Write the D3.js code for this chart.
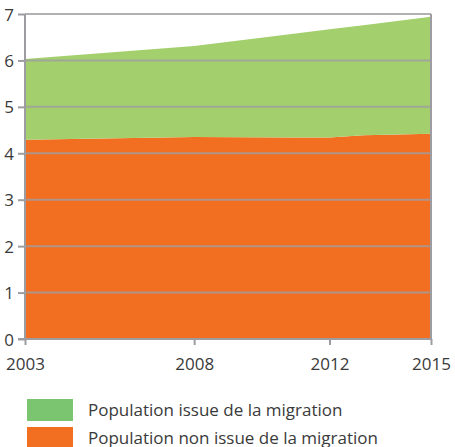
<!DOCTYPE html>
<html>
<head>
<meta charset="utf-8">
<script src="https://cdn.jsdelivr.net/npm/d3@7"></script>
<style>
body { margin: 0; background: #fff; }
text { font-family: "Open Sans", sans-serif; fill: #3a3a3a; }
</style>
</head>
<body>
<script>
// data (millions)
var years = [2003, 2008, 2011, 2012, 2013, 2015];
var nonMigration = [4.29, 4.35, 4.34, 4.34, 4.39, 4.42];
var migration = [1.74, 1.96, 2.24, 2.33, 2.37, 2.52];
var xTicks = [2003, 2008, 2012, 2015];
var yTicks = [0, 1, 2, 3, 4, 5, 6, 7];
var seriesNames = ["Population issue de la migration", "Population non issue de la migration"];

window.onload = function(){
    var w = 455, h = 447;
    var left = 25, right = 431, top = 14, bottom = 339;

    var svg = d3.select("body").append("svg")
        .attr("width", w)
        .attr("height", h);

    var x = d3.scaleLinear().domain([2003, 2015]).range([left, right]);
    var y = d3.scaleLinear().domain([0, 7]).range([bottom, top]);

    var rows = years.map(function(yr, i){
        return { year: yr, non: nonMigration[i], mig: migration[i] };
    });
    var stack = d3.stack().keys(["non", "mig"]);
    var layers = stack(rows);
    var colors = { non: "#f26f22", mig: "#a3cf6d" };

    var area = d3.area()
        .x(function(d){ return x(d.data.year); })
        .y0(function(d){ return y(d[0]); })
        .y1(function(d){ return y(d[1]); });

    svg.selectAll(".layer")
        .data(layers)
        .enter()
        .append("path")
        .attr("class", "layer")
        .attr("d", area)
        .style("fill", function(d){ return colors[d.key]; });

    //gridlines on top of the areas
    svg.selectAll(".grid")
        .data(yTicks.slice(1))
        .enter()
        .append("line")
        .attr("x1", left).attr("x2", right)
        .attr("y1", function(d){ return y(d); })
        .attr("y2", function(d){ return y(d); })
        .style("stroke", "#9d9da1")
        .style("stroke-opacity", 0.8)
        .style("stroke-width", 2);

    var yAxis = svg.append("g")
        .attr("transform", "translate(" + left + ",0)")
        .call(d3.axisLeft(y).tickValues(yTicks).tickSize(7).tickPadding(4).tickFormat(d3.format("d")));
    var xAxis = svg.append("g")
        .attr("transform", "translate(0," + bottom + ")")
        .call(d3.axisBottom(x).tickValues(xTicks).tickSize(6).tickPadding(13).tickFormat(d3.format("d")));

    [yAxis, xAxis].forEach(function(g){
        g.selectAll("line, path").style("stroke", "#9d9da1").style("stroke-width", 2);
        g.selectAll("text").style("font-size", "17px").style("fill", "#3a3a3a")
            .style("font-family", "'Open Sans', sans-serif");
    });
    yAxis.select(".domain").attr("d", "M0," + top + "V" + bottom);
    xAxis.select(".domain").attr("d", "M" + (left - 7) + ",0H" + right);
    yAxis.selectAll("text").attr("dy", "0.36em");

    //right border
    svg.append("line")
        .attr("x1", right).attr("x2", right)
        .attr("y1", top).attr("y2", bottom)
        .style("stroke", "#9d9da1")
        .style("stroke-width", 2);

    //legend
    var legendColors = ["#7cc570", "#f26f22"];
    var legend = svg.selectAll(".legend")
        .data(seriesNames)
        .enter()
        .append("g")
        .attr("class", "legend")
        .attr("transform", function(d, i){ return "translate(27," + (399 + i * 28) + ")"; });
    legend.append("rect")
        .attr("width", 46)
        .attr("height", 22)
        .style("fill", function(d, i){ return legendColors[i]; });
    legend.append("text")
        .attr("x", 61)
        .attr("y", 17)
        .style("font-size", "17px")
        .text(function(d){ return d; });
};
</script>
</body>
</html>
